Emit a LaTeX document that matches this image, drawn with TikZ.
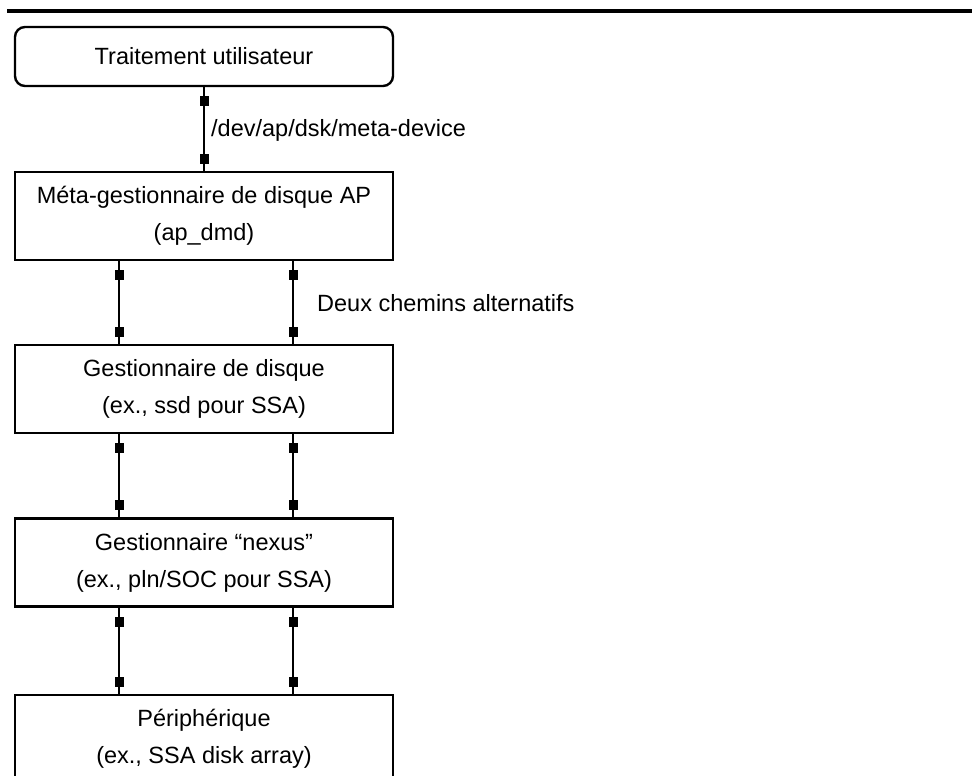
\documentclass[tikz,border=0pt]{standalone}
\usepackage{fontspec}
\setmainfont{Liberation Sans}
\usetikzlibrary{decorations.markings}

\tikzset{
  txt/.style={font=\fontsize{23.5}{37}\selectfont},
  layerbox/.style={draw, line width=2.4pt, minimum width=378pt, minimum height=88pt,
    inner sep=0pt, align=center, txt},
  userbox/.style={layerbox, rounded corners=10pt, minimum height=59pt},
  link/.style={line width=2.4pt, postaction={decorate},
    decoration={markings,
      mark=at position 14pt with {\fill (-5pt,-4.5pt) rectangle (5pt,4.5pt);},
      mark=at position -12pt with {\fill (-5pt,-4.5pt) rectangle (5pt,4.5pt);}}},
  lbl/.style={txt, anchor=west, inner sep=0pt}
}

\begin{document}
\begin{tikzpicture}[x=1pt, y=-1pt]
  \clip (0,0) rectangle (972,776);
  \fill[white] (0,0) rectangle (972,776);

  % rule across the top
  \coordinate (ruleL) at (7,11);
  \coordinate (ruleR) at (972,11);
  \draw[line width=3.2pt] (ruleL) -- (ruleR);

  % layers of the stack
  \node[userbox]  (user)  at (204,56.5) {Traitement utilisateur};
  \node[layerbox] (meta)  at (204,216)  {Méta-gestionnaire de disque AP\\(ap\_dmd)};
  \node[layerbox] (disk)  at (204,389)  {Gestionnaire de disque\\(ex., ssd pour SSA)};
  \node[layerbox] (nexus) at (204,562.5){Gestionnaire “nexus”\\(ex., pln/SOC pour SSA)};
  \node[layerbox] (dev)   at (204,739)  {Périphérique\\(ex., SSA disk array)};

  % columns of the two paths
  \coordinate (pl) at (119,0);
  \coordinate (pr) at (293,0);

  % connectors
  \draw[link] (user.south) -- (meta.north);
  \draw[link] (meta.south -| pl) -- (disk.north -| pl);
  \draw[link] (meta.south -| pr) -- (disk.north -| pr);
  \draw[link] (disk.south -| pl) -- (nexus.north -| pl);
  \draw[link] (disk.south -| pr) -- (nexus.north -| pr);
  \draw[link] (nexus.south -| pl) -- (dev.north -| pl);
  \draw[link] (nexus.south -| pr) -- (dev.north -| pr);

  % labels
  \node[lbl] (devpath) at (211,130) {/dev/ap/dsk/meta-device};
  \node[lbl] (paths)   at (317,303) {Deux chemins alternatifs};
\end{tikzpicture}
\end{document}
